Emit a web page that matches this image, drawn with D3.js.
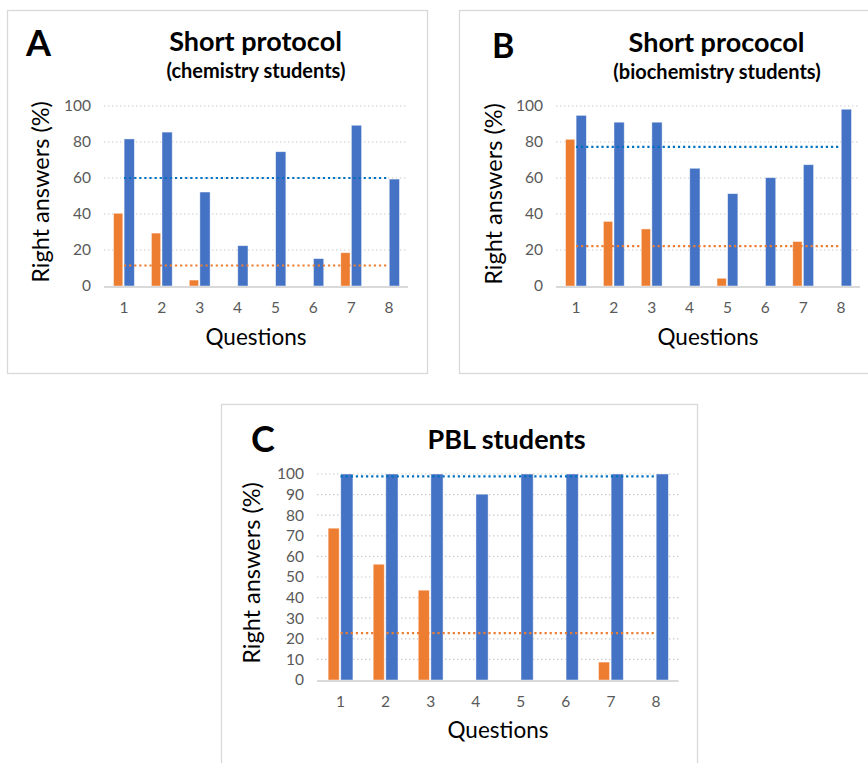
<!DOCTYPE html>
<html>
<head>
<meta charset="utf-8">
<script src="https://cdn.jsdelivr.net/npm/d3@7"></script>
<style>
  html, body { margin: 0; padding: 0; background: #ffffff; }
  svg { display: block; }
</style>
</head>
<body>
<svg id="chart" width="868" height="763"></svg>
<script>
// Question numbers shared by the three panels
const questions = ["1", "2", "3", "4", "5", "6", "7", "8"];

// A: short protocol, chemistry students
const chemBefore = [40.4, 29.4, 3.3, 0, 0, 0, 18.5, 0];
const chemAfter = [81.7, 85.5, 52.2, 22.4, 74.6, 15.2, 89.3, 59.4];
// B: short protocol, biochemistry students
const biochemBefore = [81.5, 35.9, 31.7, 0, 4.3, 0, 24.7, 0];
const biochemAfter = [94.8, 91, 91, 65.4, 51.3, 60.2, 67.4, 98.2];
// C: PBL students
const pblBefore = [73.7, 56.2, 43.6, 0, 0, 0, 8.7, 0];
const pblAfter = [100, 100, 100, 90.2, 100, 100, 100, 100];

// Mean lines drawn across each panel (A, B, C)
const meanBefore = [11.4, 22.2, 22.8];
const meanAfter = [60, 77.3, 98.8];

// Y tick values
const ticksAB = [0, 20, 40, 60, 80, 100];
const ticksC = [0, 10, 20, 30, 40, 50, 60, 70, 80, 90, 100];

const ORANGE = "#ED7D31";
const BLUE = "#4472C4";
const MEAN_BLUE = "#0070C0";
const GRID = "#C9C9C9";
const FRAME = "#D9D9D9";
const TICK_TEXT = "#595959";
const FONT = "Lato, 'Open Sans', sans-serif";

const svg = d3.select("#chart");

const panels = [
  {
    letter: "A", before: chemBefore, after: chemAfter, idx: 0, ticks: ticksAB,
    box: [7, 10, 420, 363],
    plot: { left: 105, right: 408, top: 106, bottom: 286 },
    letterPos: [26, 56, 36],
    title: "Short protocol", titlePos: [255.5, 51, 27],
    subtitle: "(chemistry students)", subPos: [256, 77.5, 20],
    yTitleX: 48.5, yTitleY: 192,
    xTickY: 312.5, xTitlePos: [256, 344.5]
  },
  {
    letter: "B", before: biochemBefore, after: biochemAfter, idx: 1, ticks: ticksAB,
    box: [459, 10, 420, 363],
    plot: { left: 557, right: 860, top: 106, bottom: 286 },
    letterPos: [492, 58, 34],
    title: "Short prococol", titlePos: [716.5, 51.5, 27],
    subtitle: "(biochemistry students)", subPos: [717, 78.5, 20],
    yTitleX: 501.5, yTitleY: 194,
    xTickY: 312.5, xTitlePos: [708, 344.5]
  },
  {
    letter: "C", before: pblBefore, after: pblAfter, idx: 2, ticks: ticksC,
    box: [221, 404, 476, 380],
    plot: { left: 318, right: 678.5, top: 474, bottom: 680 },
    letterPos: [251, 452, 36],
    title: "PBL students", titlePos: [506.5, 448.5, 27],
    subtitle: null,
    yTitleX: 260, yTitleY: 573,
    xTickY: 706.5, xTitlePos: [498, 738]
  }
];

panels.forEach(p => {
  const g = svg.append("g");

  // panel frame
  g.append("rect")
    .attr("x", p.box[0] + 0.5).attr("y", p.box[1] + 0.5)
    .attr("width", p.box[2]).attr("height", p.box[3])
    .attr("fill", "#ffffff").attr("stroke", FRAME).attr("stroke-width", 1.3);

  const x = d3.scaleBand().domain(questions).range([p.plot.left, p.plot.right]);
  const y = d3.scaleLinear().domain([0, 100]).range([p.plot.bottom, p.plot.top]);
  const bw = x.bandwidth();
  const wBefore = bw * 0.245, gap = bw * 0.035, wAfter = bw * 0.27;
  const groupW = wBefore + gap + wAfter;
  const cx = q => x(q) + bw / 2;

  // dotted horizontal gridlines
  g.append("g").selectAll("line")
    .data(p.ticks.filter(t => t > 0))
    .join("line")
    .attr("x1", p.plot.left - 1).attr("x2", p.plot.right)
    .attr("y1", d => y(d)).attr("y2", d => y(d))
    .attr("stroke", GRID).attr("stroke-width", 1.2)
    .attr("stroke-dasharray", "1.4 2.6");

  // y axis tick labels
  const yAxis = d3.axisLeft(y).tickValues(p.ticks).tickSize(0).tickPadding(14);
  const ya = g.append("g").attr("transform", `translate(${p.plot.left},0)`).call(yAxis);
  ya.select(".domain").remove();
  ya.selectAll("text")
    .attr("font-family", FONT).attr("font-size", 15.5).attr("fill", TICK_TEXT);

  // bars: before (orange) and after (blue)
  g.append("g").selectAll("rect")
    .data(questions.map((q, i) => ({ q, v: p.before[i] })))
    .join("rect")
    .attr("x", d => cx(d.q) - groupW / 2)
    .attr("y", d => y(d.v))
    .attr("width", wBefore)
    .attr("height", d => y(0) - y(d.v))
    .attr("fill", ORANGE)
    .attr("stroke", "#ffffff").attr("stroke-opacity", 0.55).attr("stroke-width", 0.8);

  g.append("g").selectAll("rect")
    .data(questions.map((q, i) => ({ q, v: p.after[i] })))
    .join("rect")
    .attr("x", d => cx(d.q) - groupW / 2 + wBefore + gap)
    .attr("y", d => y(d.v))
    .attr("width", wAfter)
    .attr("height", d => y(0) - y(d.v))
    .attr("fill", BLUE)
    .attr("stroke", "#ffffff").attr("stroke-opacity", 0.55).attr("stroke-width", 0.8);

  // category axis baseline
  g.append("line")
    .attr("x1", p.plot.left - 1).attr("x2", p.plot.right)
    .attr("y1", y(0) + 1).attr("y2", y(0) + 1)
    .attr("stroke", FRAME).attr("stroke-width", 2);

  // x axis tick labels
  const xAxis = d3.axisBottom(x).tickSize(0).tickPadding(0);
  const xa = g.append("g").attr("transform", `translate(0,${p.xTickY})`).call(xAxis);
  xa.select(".domain").remove();
  xa.selectAll("text")
    .attr("dy", 0).attr("y", 0)
    .attr("font-family", FONT).attr("font-size", 15.5).attr("fill", TICK_TEXT);

  // mean lines from first to last question
  const meanLine = (val, color) => {
    const line = d3.line().x(d => cx(d)).y(() => y(val));
    g.append("path")
      .attr("d", line([questions[0], questions[questions.length - 1]]))
      .attr("fill", "none").attr("stroke", color)
      .attr("stroke-width", 2.2).attr("stroke-dasharray", "2.2 2.9");
  };
  meanLine(meanAfter[p.idx], MEAN_BLUE);
  meanLine(meanBefore[p.idx], ORANGE);

  // panel letter
  g.append("text")
    .attr("x", p.letterPos[0]).attr("y", p.letterPos[1])
    .attr("font-family", FONT).attr("font-weight", 700)
    .attr("font-size", p.letterPos[2]).attr("fill", "#000")
    .text(p.letter);

  // titles
  g.append("text")
    .attr("x", p.titlePos[0]).attr("y", p.titlePos[1])
    .attr("text-anchor", "middle")
    .attr("font-family", FONT).attr("font-weight", 700)
    .attr("font-size", p.titlePos[2]).attr("fill", "#000")
    .text(p.title);
  if (p.subtitle) {
    g.append("text")
      .attr("x", p.subPos[0]).attr("y", p.subPos[1])
      .attr("text-anchor", "middle")
      .attr("font-family", FONT).attr("font-weight", 700)
      .attr("font-size", p.subPos[2]).attr("fill", "#000")
      .text(p.subtitle);
  }

  // axis titles
  g.append("text")
    .attr("transform", `translate(${p.yTitleX},${p.yTitleY}) rotate(-90)`)
    .attr("text-anchor", "middle")
    .attr("font-family", FONT).attr("font-size", 23.5).attr("fill", "#000")
    .text("Right answers (%)");
  g.append("text")
    .attr("x", p.xTitlePos[0]).attr("y", p.xTitlePos[1])
    .attr("text-anchor", "middle")
    .attr("font-family", FONT).attr("font-size", 22.5).attr("fill", "#000")
    .text("Questions");
});
</script>
</body>
</html>
